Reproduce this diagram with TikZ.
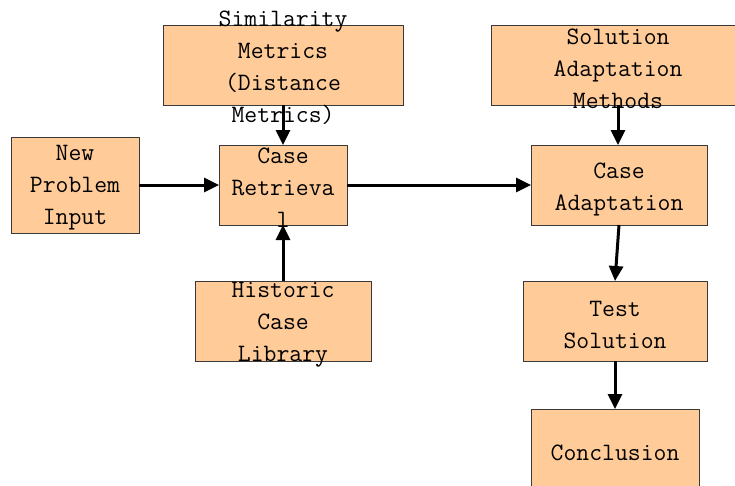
\documentclass[tikz,border=0pt]{standalone}
\usepackage{fontspec}
\usetikzlibrary{arrows.meta}
\definecolor{peach}{HTML}{FFCC99}
\definecolor{edge}{HTML}{3A3A3A}
\tikzset{
  stage/.style={draw=edge, line width=1pt, fill=peach, inner sep=0pt, outer sep=0pt},
  caption/.style={font=\ttfamily\fontsize{25}{32}\selectfont, align=center, inner sep=0pt, text=black},
  flow/.style={line width=3pt, -{Triangle[length=15pt,width=14pt]}}
}
\begin{document}
\begin{tikzpicture}[x=1pt,y=-1pt]
\useasboundingbox (0,0) rectangle (735,485);

% process boxes
\node[stage, minimum width=240pt, minimum height=80pt] (sim)   at (283,65)  {};
\node[stage, minimum width=254pt, minimum height=80pt] (sol)   at (618,65)  {};
\node[stage, minimum width=128pt, minimum height=96pt] (new)   at (75,185)  {};
\node[stage, minimum width=128pt, minimum height=80pt] (ret)   at (283,185) {};
\node[stage, minimum width=176pt, minimum height=80pt] (adapt) at (619,185) {};
\node[stage, minimum width=176pt, minimum height=80pt] (hist)  at (283,321) {};
\node[stage, minimum width=184pt, minimum height=80pt] (test)  at (615,321) {};
\node[stage, minimum width=168pt, minimum height=80pt] (conc)  at (615,449) {};

% box texts (allowed to run past the box edges)
\node[caption] (sim-t)   at (283,68)  {Similarity\\Metrics\\(Distance\\Metrics)};
\node[caption] (sol-t)   at (618,69)  {Solution\\Adaptation\\Methods};
\node[caption] (new-t)   at (75,188)  {New\\Problem\\Input};
\node[caption] (ret-t)   at (283,188) {Case\\Retrieva\\l};
\node[caption] (adapt-t) at (619,189) {Case\\Adaptation};
\node[caption] (hist-t)  at (283,325) {Historic\\Case\\Library};
\node[caption] (test-t)  at (615,325) {Test\\Solution};
\node[caption] (conc-t)  at (615,453) {Conclusion};

% connectors
\draw[flow] (new.east) -- (ret.west);
\draw[flow] (ret.east) -- (adapt.west);
\draw[flow] (sim.south) -- (ret.north);
\draw[flow] (hist.north) -- (ret.south);
\draw[flow] (sol.south) -- (sol.south |- adapt.north);
\draw[flow] (adapt.south) -- (test.north);
\draw[flow] (test.south) -- (conc.north);
\end{tikzpicture}
\end{document}
